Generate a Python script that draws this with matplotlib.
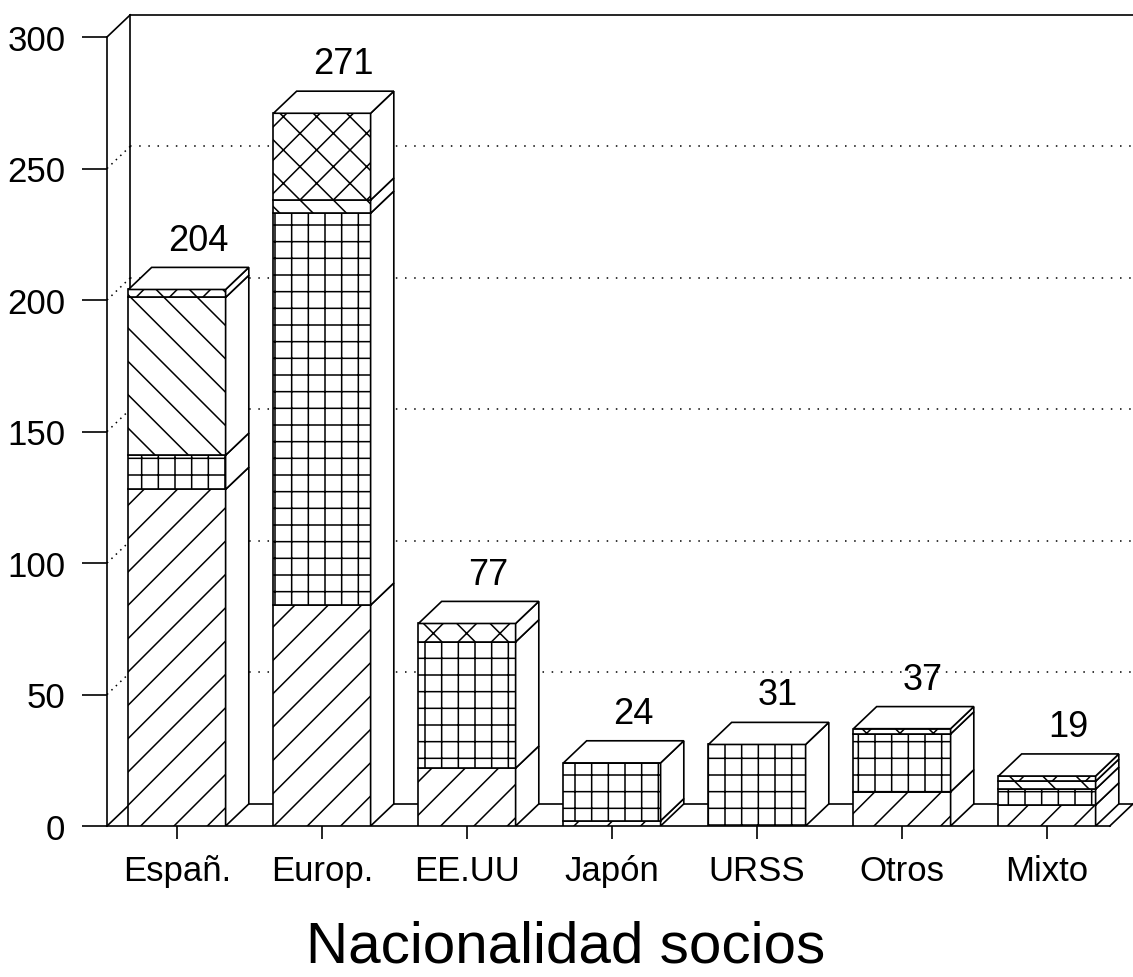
import numpy as np
import matplotlib.pyplot as plt
from matplotlib.patches import Polygon

plt.rcParams['font.family'] = ['Liberation Sans', 'DejaVu Sans']
plt.rcParams['hatch.linewidth'] = 1.1

categories = ['Españ.', 'Europ.', 'EE.UU', 'Japón', 'URSS', 'Otros', 'Mixto']
totals = [204, 271, 77, 24, 31, 37, 19]

# stacked segments, bottom to top
seg_diag = [128, 84, 22, 2, 0, 13, 8]
seg_grid = [13, 149, 48, 22, 31, 22, 6]
seg_back = [60, 5, 0, 0, 0, 0, 3]
seg_cross = [3, 33, 7, 0, 0, 2, 2]

series = [(seg_diag, '/'), (seg_grid, '+'), (seg_back, '\\'), (seg_cross, 'x')]
yticks = [0, 50, 100, 150, 200, 250, 300]

# 3d depth (data units)
DX = 0.16
DY = 8.4
W = 0.67
X0 = -0.483
LW = 1.2

fig = plt.figure(figsize=(11.33, 9.78), dpi=100)
ax = fig.add_axes([107 / 1133, 151 / 978, 1026 / 1133, 812 / 978])
x1 = X0 + 1026 / 145
ax.set_xlim(X0, x1)
ax.set_ylim(0, 812 / 2.63)
xf = x1 - DX  # floor front right

for s in ['top', 'right']:
    ax.spines[s].set_visible(False)
ax.spines['left'].set_bounds(0, 300)
ax.spines['bottom'].set_bounds(X0, xf)
for s in ['left', 'bottom']:
    ax.spines[s].set_linewidth(LW)

kw = dict(color='black', lw=LW, clip_on=False)
# walls and floor
ax.plot([X0, X0 + DX], [0, DY], **kw)
ax.plot([X0, X0 + DX], [300, 300 + DY], **kw)
ax.plot([X0 + DX, X0 + DX], [DY, 300 + DY], **kw)
ax.plot([X0 + DX, x1], [300 + DY, 300 + DY], **kw)
ax.plot([X0 + DX, x1], [DY, DY], **kw)
ax.plot([xf, x1], [0, DY], **kw)

# dotted gridlines on back wall
for v in yticks[1:-1]:
    ax.plot([X0 + DX, x1], [v + DY, v + DY], color='black', lw=1.1,
            ls=(0, (1, 5)), zorder=1)
    ax.plot([X0, X0 + DX], [v, v + DY], color='black', lw=1.1,
            ls=(0, (1, 3)), zorder=1)

x = np.arange(len(categories))
bottom = np.zeros(len(categories))
for vals, hatch in series:
    vals = np.array(vals, dtype=float)
    ax.bar(x, vals, W, bottom=bottom, color='white', edgecolor='black',
           hatch=hatch, lw=LW, zorder=3)
    for i in range(len(x)):
        if vals[i] <= 0:
            continue
        xr = x[i] + W / 2
        y0, y1 = bottom[i], bottom[i] + vals[i]
        side = Polygon([(xr, y0), (xr + DX, y0 + DY), (xr + DX, y1 + DY), (xr, y1)],
                       closed=True, facecolor='white', edgecolor='black',
                       lw=LW, zorder=3)
        ax.add_patch(side)
    bottom += vals

for i in range(len(x)):
    xl, xr, t = x[i] - W / 2, x[i] + W / 2, totals[i]
    top = Polygon([(xl, t), (xl + DX, t + DY), (xr + DX, t + DY), (xr, t)],
                  closed=True, facecolor='white', edgecolor='black',
                  lw=LW, zorder=3)
    ax.add_patch(top)
    ax.text(x[i] + DX * 0.9, t + DY + 6.8, str(t), ha='center', va='baseline',
            fontsize=26, zorder=5)

ax.set_yticks(yticks)
ax.set_xticks(x, categories)
ax.tick_params(axis='y', length=18, width=LW, pad=12, labelsize=25, direction='out')
ax.tick_params(axis='x', length=9, width=LW, pad=11, labelsize=25, direction='out')

fig.text(566 / 1133, 1 - 963 / 978, 'Nacionalidad socios', ha='center',
         va='baseline', fontsize=42)

fig.savefig('out.png', dpi=100)
